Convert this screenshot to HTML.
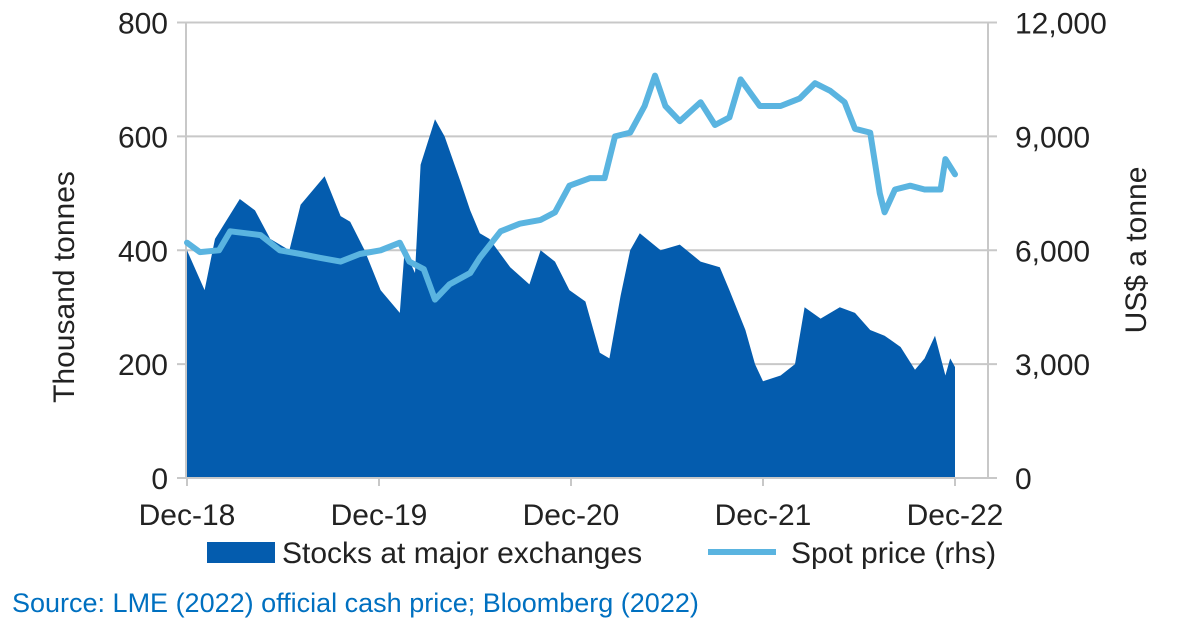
<!DOCTYPE html>
<html><head><meta charset="utf-8"><style>
body{margin:0;background:#fff;}
svg{display:block;font-family:"Liberation Sans",Arial,sans-serif;}
</style></head><body>
<svg id="chart" width="1178" height="627" viewBox="0 0 1178 627"></svg>
<script>
const stockMonths=[0,1.1,1.75,3.3,4.25,5.2,6.4,7.1,8.6,9.6,10.2,11.1,12.1,13.3,13.6,14.25,14.6,15.5,16.1,17.1,17.7,18.3,18.9,20.2,21.4,22.1,23,23.9,24.9,25.8,26.4,27.1,27.7,28.3,29.6,30.8,32.1,33.3,33.9,34.9,35.5,36,37.1,38,38.6,39.6,40.8,41.75,42.7,43.6,44.6,45.5,46.1,46.75,47.4,47.7,48];
const stockValues=[400,330,420,490,470,420,400,480,530,460,450,400,330,290,400,360,550,630,600,520,470,430,420,370,340,400,380,330,310,220,210,320,400,430,400,410,380,370,330,260,200,170,180,200,300,280,300,290,260,250,230,190,210,250,180,210,195];
const priceMonths=[0,0.8,2,2.7,4.6,5.8,7.1,8.3,9.6,10.8,12.1,13.3,13.9,14.8,15.5,16.4,17.7,18.3,19.6,20.8,22.1,23,23.9,25.2,26.1,26.75,27.7,28.6,29.25,29.9,30.8,32.1,33,33.9,34.6,35.8,37.1,38.3,39.25,40.2,41.1,41.75,42.7,43.3,43.6,44.25,45.2,46.1,47.1,47.4,48];
const priceValues=[6200,5950,6000,6500,6400,6000,5900,5800,5700,5900,6000,6200,5700,5500,4700,5100,5400,5800,6500,6700,6800,7000,7700,7900,7900,9000,9100,9800,10600,9800,9400,9900,9300,9500,10500,9800,9800,10000,10400,10200,9900,9200,9100,7500,7000,7600,7700,7600,7600,8400,8000];
const leftTicks=[0,200,400,600,800];
const rightTicks=[0,3000,6000,9000,12000];
const rightTickLabels=["0","3,000","6,000","9,000","12,000"];
const xTickMonths=[0,12,24,36,48];
const xTickLabels=["Dec-18","Dec-19","Dec-20","Dec-21","Dec-22"];

const svg=document.getElementById('chart');
const NS='http://www.w3.org/2000/svg';
const X0=187,X1=955,AXR=988,YB=478,YT=22.5;
const xs=m=>X0+(X1-X0)*m/48;
const yl=v=>YB-(YB-YT)*v/800;
const yr=v=>YB-(YB-YT)*v/12000;
function mk(tag,attrs,parent){const e=document.createElementNS(NS,tag);for(const k in attrs)e.setAttribute(k,attrs[k]);(parent||svg).appendChild(e);return e;}

leftTicks.forEach((t,i)=>{
 const g=mk('line',{x1:177,x2:AXR+9,y1:yl(t),y2:yl(t),stroke:'#c8c8c8','stroke-width':2});
 
 
 const tx=mk('text',{x:168,y:yl(t)+11,'text-anchor':'end','font-size':30,fill:'#222'});
 tx.textContent=t;
 
 
});
rightTicks.forEach((t,i)=>{
 const tx=mk('text',{x:1015,y:yr(t)+11,'font-size':30,fill:'#222'});
 tx.textContent=rightTickLabels[i];
 
 
});
let la=mk('line',{x1:186,x2:186,y1:YT,y2:YB,stroke:'#c8c8c8','stroke-width':2});


let ra=mk('line',{x1:AXR,x2:AXR,y1:YT,y2:YB,stroke:'#c8c8c8','stroke-width':2});



let d='M'+xs(stockMonths[0])+','+YB;
stockMonths.forEach((m,i)=>{d+=' L'+xs(m).toFixed(1)+','+yl(stockValues[i]).toFixed(1);});
d+=' L'+xs(stockMonths[stockMonths.length-1])+','+YB+' Z';
const area=mk('path',{d:d,fill:'#045cae'});



let pts=priceMonths.map((m,i)=>xs(m).toFixed(1)+','+yr(priceValues[i]).toFixed(1)).join(' ');
const line=mk('polyline',{points:pts,fill:'none',stroke:'#5ab4e0','stroke-width':6,'stroke-linejoin':'round','stroke-linecap':'round'});



let xa=mk('line',{x1:186,x2:AXR,y1:YB,y2:YB,stroke:'#c8c8c8','stroke-width':2});


xTickMonths.forEach((m,i)=>{
 const tk=mk('line',{x1:xs(m),x2:xs(m),y1:YB,y2:YB+8,stroke:'#c8c8c8','stroke-width':2});
 
 
 const tx=mk('text',{x:xs(m),y:525,'text-anchor':'middle','font-size':30,fill:'#222'});
 tx.textContent=xTickLabels[i];
 
 
});
</script>
<svg style="position:absolute;left:0;top:0" width="1178" height="627">
<text x="74" y="287" transform="rotate(-90 74 287)" text-anchor="middle" font-size="30" fill="#222">Thousand tonnes</text>
<text x="1146" y="250" transform="rotate(-90 1146 250)" text-anchor="middle" font-size="30" fill="#222">US$ a tonne</text>
<rect x="207" y="542" width="68" height="21" fill="#045cae"/>
<text x="282" y="563" font-size="30" fill="#222">Stocks at major exchanges</text>
<line x1="708" y1="552" x2="776" y2="552" stroke="#5ab4e0" stroke-width="6"/>
<text x="791" y="563" font-size="30" fill="#222">Spot price (rhs)</text>
<text x="12" y="612" font-size="27" fill="#0070c0">Source: LME (2022) official cash price; Bloomberg (2022)</text>
</svg>
</body></html>
